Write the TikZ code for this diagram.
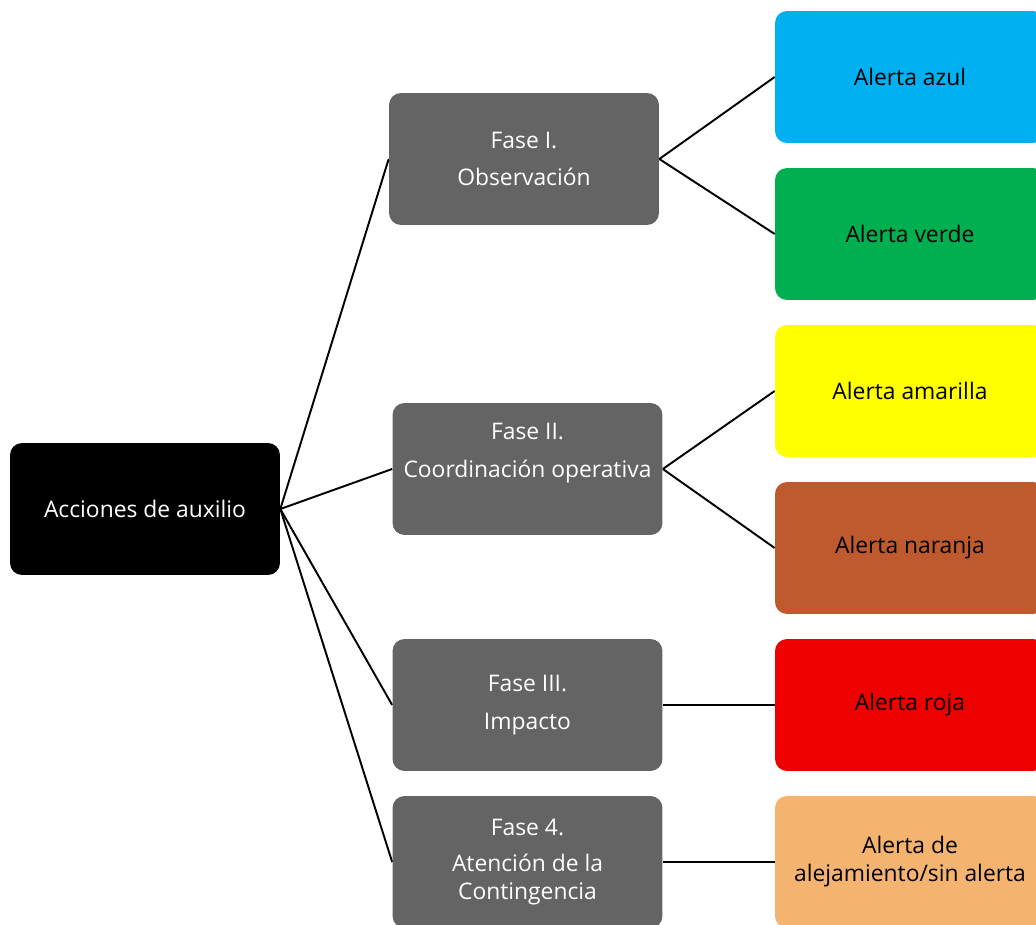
\documentclass[tikz,border=0pt]{standalone}
\usepackage{fontspec}
\setmainfont{Open Sans}
\usepackage{tikz}
\usetikzlibrary{backgrounds}
\definecolor{fasegray}{HTML}{646464}
\definecolor{azul}{HTML}{00B0F0}
\definecolor{verde}{HTML}{00B050}
\definecolor{amarilla}{HTML}{FFFF00}
\definecolor{naranja}{HTML}{BE5A2E}
\definecolor{roja}{HTML}{EE0000}
\definecolor{alejada}{HTML}{F4B470}
\tikzstyle{box}=[rectangle,rounded corners=0.24cm,minimum width=5.4cm,minimum height=2.64cm,align=center,font=\fontsize{13}{16}\selectfont,inner sep=2pt]
\tikzstyle{root}=[box,fill=black,text=white]
\tikzstyle{fase}=[box,fill=fasegray,text=white]
\tikzstyle{alerta}=[box,text=black]
\tikzstyle{simple}=[-,draw=black,line width=1.1]
\pgfdeclarelayer{edgelayer}
\pgfdeclarelayer{nodelayer}
\pgfsetlayers{edgelayer,nodelayer,main}

\begin{document}
\begin{tikzpicture}[x=0.02cm,y=-0.02cm]
	\useasboundingbox (0,0) rectangle (1036,925);
	\clip (0,0) rectangle (1036,925);
	\begin{pgfonlayer}{nodelayer}
		\node [style=root] (acc) at (145, 509) {Acciones de auxilio};
		\node [style=fase] (f1) at (524, 159) {Fase I.\\[5.5pt] Observación};
		\node [style=fase] (f2) at (527.5, 469) {Fase II.\\[5.5pt] Coordinación operativa\\[5.5pt] \mbox{}};
		\node [style=fase] (f3) at (527.5, 705) {Fase III.\\[5.5pt] Impacto};
		\node [style=fase] (f4) at (527.5, 862) {Fase 4.\\[4.5pt] Atención de la\\ Contingencia};
		\node [style=alerta, fill=azul] (azul) at (910, 77) {Alerta azul};
		\node [style=alerta, fill=verde] (verde) at (910, 234) {Alerta verde};
		\node [style=alerta, fill=amarilla] (amar) at (910, 391) {Alerta amarilla};
		\node [style=alerta, fill=naranja] (nar) at (910, 548) {Alerta naranja};
		\node [style=alerta, fill=roja] (roja) at (910, 705) {Alerta roja};
		\node [style=alerta, fill=alejada] (alej) at (910, 862) {Alerta de\\ alejamiento/sin alerta};
	\end{pgfonlayer}
	\begin{pgfonlayer}{edgelayer}
		\draw [style=simple] (acc.east) to (f1.west);
		\draw [style=simple] (acc.east) to (f2.west);
		\draw [style=simple] (acc.east) to (f3.west);
		\draw [style=simple] (acc.east) to (f4.west);
		\draw [style=simple] (f1.east) to (azul.west);
		\draw [style=simple] (f1.east) to (verde.west);
		\draw [style=simple] (f2.east) to (amar.west);
		\draw [style=simple] (f2.east) to (nar.west);
		\draw [style=simple] (f3.east) to (roja.west);
		\draw [style=simple] (f4.east) to (alej.west);
	\end{pgfonlayer}
\end{tikzpicture}
\end{document}
